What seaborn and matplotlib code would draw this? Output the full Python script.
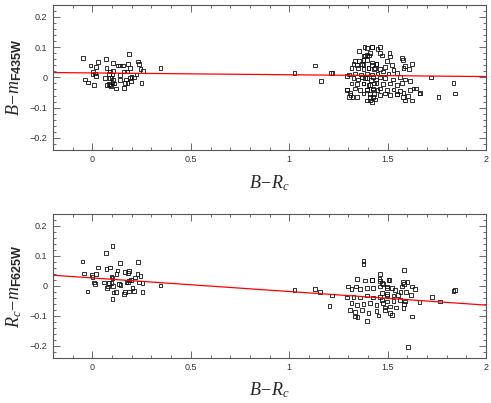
import numpy as np
import pandas as pd
import matplotlib
matplotlib.use("Agg")
import matplotlib.pyplot as plt
import seaborn as sns
from matplotlib.ticker import MultipleLocator, FuncFormatter

# colour B-Rc and residual B - m_F435W (upper panel)
top_color = [
    -0.048, 0.186, 0.028, 0.068, 0.105, 0.232, 0.237, 0.181, 0.139, 0.130, 0.156,
    0.071, -0.010, 0.017, 0.190, 0.346, 0.244, 0.257, 0.105, 0.088, 0.161, 0.176,
    0.003, 0.012, 0.000, 0.084, 0.139, 0.102, 0.224, 0.017, 0.198, 0.190, 0.212,
    0.088, 0.063, -0.039, -0.022, 0.007, 0.097, 0.105, 0.139, 0.169, 0.195, 0.178,
    0.164, 0.249, 0.102, 0.084, 0.074, 0.088, 0.113, 0.119, 0.159, 0.095,
    1.026, 1.131, 1.212, 1.220, 1.161, 1.295, 1.292, 1.305, 1.322, 1.309,
    1.419, 1.394, 1.356, 1.385, 1.405, 1.448, 1.334, 1.356, 1.377, 1.326, 1.343,
    1.368, 1.419, 1.444, 1.317, 1.351, 1.377, 1.402, 1.431, 1.305, 1.334, 1.363,
    1.394, 1.419, 1.448, 1.326, 1.351, 1.385, 1.414, 1.441, 1.317, 1.343, 1.377,
    1.402, 1.431, 1.334, 1.360, 1.394, 1.424, 1.448, 1.292, 1.312, 1.343, 1.377,
    1.411, 1.431, 1.419, 1.394,
    1.382, 1.419, 1.461, 1.380, 1.394, 1.411, 1.461, 1.470, 1.509, 1.512, 1.572,
    1.577, 1.623, 1.589, 1.610, 1.580, 1.495, 1.521, 1.487, 1.529, 1.394, 1.419,
    1.444, 1.377, 1.436, 1.402, 1.461, 1.478, 1.504, 1.546, 1.563, 1.589, 1.614,
    1.526, 1.721, 1.368, 1.394, 1.427, 1.461, 1.487, 1.377, 1.411, 1.444, 1.478,
    1.512, 1.546, 1.572, 1.394, 1.427, 1.461, 1.495, 1.529, 1.563, 1.614, 1.631,
    1.411, 1.427, 1.461, 1.487, 1.512, 1.546, 1.580, 1.623, 1.661, 1.589, 1.758,
    1.411, 1.436, 1.834, 1.843, 1.644, 1.665, 1.602, 1.577, 1.546,
]
top_resid = [
    0.063, 0.078, 0.050, 0.060, 0.047, 0.052, 0.045, 0.044, 0.039, 0.039, 0.039,
    0.032, 0.039, 0.034, 0.032, 0.032, 0.028, 0.021, 0.021, 0.019, 0.019, 0.019,
    0.019, 0.013, 0.010, 0.011, 0.008, 0.010, 0.010, 0.004, 0.002, -0.003, 0.000,
    -0.003, -0.003, -0.007, -0.017, -0.026, -0.003, -0.009, -0.009, -0.007, -0.012, -0.018,
    -0.018, -0.018, -0.018, -0.023, -0.026, -0.026, -0.020, -0.037, -0.035, -0.029,
    0.015, 0.039, 0.015, 0.015, -0.011, 0.004, -0.040, -0.065, -0.065, -0.051,
    0.100, 0.097, 0.088, 0.072, 0.072, 0.093, 0.054, 0.054, 0.058, 0.044, 0.041,
    0.044, 0.041, 0.044, 0.030, 0.030, 0.027, 0.030, 0.027, 0.010, 0.013, 0.010,
    0.013, 0.010, 0.013, -0.003, -0.007, -0.003, -0.009, -0.007, -0.020, -0.023, -0.020,
    -0.026, -0.020, -0.037, -0.042, -0.040, -0.037, -0.042, -0.042, -0.059, -0.064, -0.053,
    -0.065, -0.056, -0.081, -0.076,
    0.100, 0.100, 0.100, 0.071, 0.074, 0.080, 0.080, 0.072, 0.080, 0.069, 0.063,
    0.058, 0.044, 0.038, 0.027, 0.030, 0.055, 0.041, 0.035, 0.024, 0.058, 0.049,
    0.044, 0.041, 0.030, 0.030, 0.027, 0.019, 0.013, 0.015, 0.002, -0.007, -0.011,
    -0.007, 0.000, 0.002, -0.003, 0.002, 0.000, -0.003, -0.020, -0.026, -0.018, -0.023,
    -0.020, -0.026, -0.018, -0.042, -0.040, -0.037, -0.042, -0.040, -0.045, -0.042, -0.037,
    -0.056, -0.065, -0.059, -0.053, -0.059, -0.056, -0.051, -0.076, -0.053, -0.076, -0.065,
    -0.076, -0.073, -0.018, -0.053, -0.037, -0.051, -0.062, -0.065, -0.057,
]

# colour B-Rc and residual Rc - m_F625W (lower panel)
bot_color = [
    0.102, 0.068, -0.051, 0.139, 0.232, 0.028, 0.088, 0.071, 0.127, 0.186, 0.181,
    0.164, -0.043, -0.002, 0.020, 0.229, 0.244, 0.122, 0.215, 0.097, 0.102, 0.000,
    0.186, 0.181, 0.173, 0.195, 0.007, 0.012, 0.059, 0.084, 0.097, 0.135, 0.142,
    0.237, 0.254, 0.346, 0.079, 0.074, 0.105, 0.203, -0.025, 0.164, 0.186, 0.119,
    0.108, 0.254, 0.210, 0.161, 0.102,
    1.026, 1.131, 1.156, 1.216, 1.204, 1.605,
    1.377, 1.377, 1.343, 1.385, 1.419, 1.458, 1.470, 1.461, 1.419, 1.504,
    1.300, 1.317, 1.339, 1.360, 1.394, 1.427, 1.461, 1.495,
    1.292, 1.326, 1.360, 1.394, 1.427, 1.461, 1.495,
    1.317, 1.343, 1.377, 1.411, 1.444, 1.478,
    1.309, 1.334, 1.368, 1.402, 1.444, 1.487, 1.394, 1.334, 1.453, 1.346,
    1.583, 1.509, 1.577, 1.600, 1.583, 1.572, 1.623, 1.639, 1.617, 1.594, 1.566,
    1.724, 1.661, 1.767, 1.461, 1.478, 1.495, 1.521, 1.538, 1.470, 1.495, 1.529,
    1.554, 1.470, 1.495, 1.529, 1.563, 1.589, 1.487, 1.512, 1.543, 1.580, 1.512,
    1.521, 1.623, 1.583, 1.834, 1.843,
]
bot_resid = [
    0.134, 0.109, 0.081, 0.076, 0.079, 0.061, 0.062, 0.057, 0.051, 0.050, 0.044,
    0.046, 0.042, 0.037, 0.039, 0.040, 0.034, 0.039, 0.028, 0.031, 0.026, 0.029,
    0.018, 0.011, 0.014, 0.020, 0.011, 0.006, 0.011, 0.009, 0.009, 0.007, 0.003,
    0.011, 0.009, 0.001, -0.002, -0.008, 0.000, -0.008, -0.019, -0.021, -0.019, -0.021,
    -0.022, -0.021, -0.016, -0.028, -0.043,
    -0.013, -0.011, -0.021, -0.032, -0.066, -0.204,
    0.084, 0.073, 0.022, 0.018, 0.020, 0.022, 0.009, 0.040, 0.020, 0.020,
    -0.002, -0.011, -0.002, -0.011, -0.006, -0.008, -0.002, -0.008,
    -0.039, -0.036, -0.039, -0.032, -0.039, -0.036, -0.032,
    -0.058, -0.063, -0.061, -0.058, -0.063, -0.058,
    -0.080, -0.086, -0.080, -0.091, -0.083, -0.080, -0.117, -0.102, -0.099, -0.104,
    0.053, 0.020, 0.014, 0.012, 0.006, -0.002, -0.002, -0.010, -0.030, -0.021, -0.021,
    -0.036, -0.054, -0.052, 0.017, 0.006, -0.002, -0.008, -0.013, -0.024, -0.028, -0.032,
    -0.030, -0.047, -0.052, -0.050, -0.047, -0.052, -0.072, -0.069, -0.072, -0.074, -0.091,
    -0.097, -0.102, -0.061, -0.016, -0.013,
]

# linear fits (intercept, slope) drawn in red
top_fit = (0.0147, -0.0060)
bot_fit = (0.0266, -0.0453)
fit_range = [-0.2, 2.0]

sns.set_style("white")
plt.rcParams['mathtext.fontset'] = 'custom'
plt.rcParams['mathtext.rm'] = 'Liberation Serif'
plt.rcParams['mathtext.it'] = 'Liberation Serif:italic'
plt.rcParams['mathtext.sf'] = 'Liberation Sans:bold'
plt.rcParams['font.family'] = ['Liberation Sans', 'DejaVu Sans']

fig = plt.figure(figsize=(4.91, 4.03), dpi=100)
ax1 = fig.add_axes([0.108, 0.628, 0.882, 0.360])
ax2 = fig.add_axes([0.108, 0.112, 0.882, 0.357])

panels = [
    (ax1, top_color, top_resid, top_fit, r'$B\!-\!m_{\mathsf{F435W}}$'),
    (ax2, bot_color, bot_resid, bot_fit, r'$R_c\!-\!m_{\mathsf{F625W}}$'),
]

def fmt(v, p):
    if abs(v) < 1e-9:
        return '0'
    return ('%g' % v).replace('-', '\u2212')

for ax, cx, cy, fit, ylab in panels:
    df = pd.DataFrame({'color': cx, 'resid': cy})
    sns.scatterplot(data=df, x='color', y='resid', ax=ax, marker='s', s=7,
                    facecolor='none', edgecolor='#111111', linewidth=0.6)
    fx = np.array(fit_range)
    fl = pd.DataFrame({'color': fx, 'resid': fit[0] + fit[1] * fx})
    sns.lineplot(data=fl, x='color', y='resid', ax=ax, color='red', linewidth=0.9)
    ax.set_xlim(-0.2, 2.0)
    ax.set_ylim(-0.24, 0.24)
    ax.xaxis.set_major_locator(MultipleLocator(0.5))
    ax.xaxis.set_minor_locator(MultipleLocator(0.1))
    ax.yaxis.set_major_locator(MultipleLocator(0.1))
    ax.yaxis.set_minor_locator(MultipleLocator(0.02))
    ax.xaxis.set_major_formatter(FuncFormatter(fmt))
    ax.yaxis.set_major_formatter(FuncFormatter(fmt))
    ax.tick_params(which='both', direction='in', bottom=True, left=True,
                   top=True, right=True, color='#555555', labelcolor='#333333',
                   labelsize=6.5, width=0.6)
    ax.tick_params(which='major', length=5, pad=4)
    ax.tick_params(which='minor', length=2.5)
    for sp in ax.spines.values():
        sp.set_color('#555555')
        sp.set_linewidth(0.8)
    ax.set_xlabel(r'$B\!-\!R_c$', fontsize=13, labelpad=6)
    ax.set_ylabel(ylab, fontsize=13, labelpad=4)

fig.savefig('out.png', dpi=100)
